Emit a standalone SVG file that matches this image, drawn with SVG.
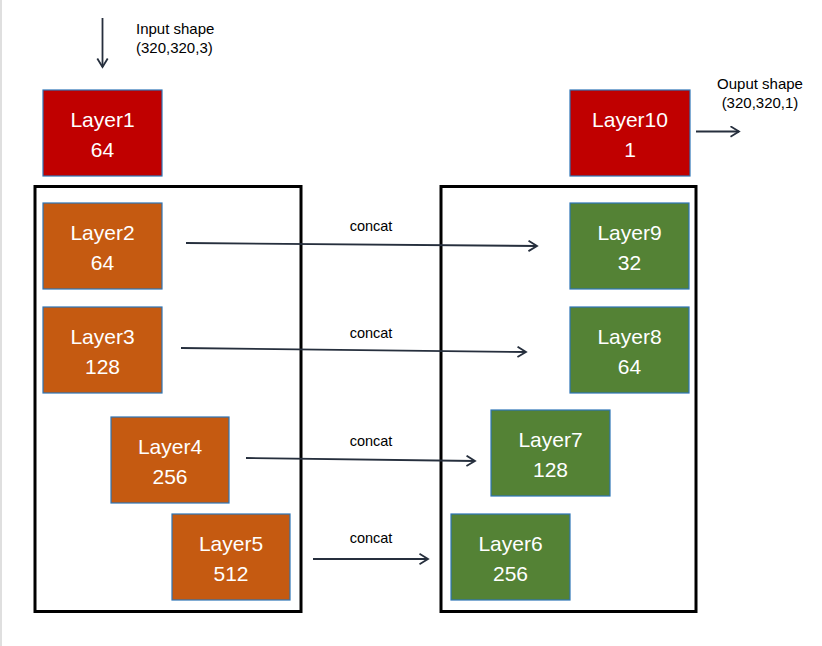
<svg xmlns="http://www.w3.org/2000/svg" width="822" height="646" viewBox="0 0 822 646">
<style>
.node rect{stroke:#2E75B6;stroke-width:1.2}
.red{fill:#C00000}.orange{fill:#C55A11}.green{fill:#548235}
.nt{font-family:"Liberation Sans",Arial,sans-serif;font-size:21px;fill:#FFFFFF;text-anchor:middle}
.lbl{font-family:"Liberation Sans",Arial,sans-serif;font-size:15px;fill:#000000}
.cc{font-family:"Liberation Sans",Arial,sans-serif;font-size:14.5px;fill:#000000;text-anchor:middle}
.frame{fill:none;stroke:#000000;stroke-width:3}
.conn line{stroke:#262F3D;stroke-width:1.8;marker-end:url(#arr)}
</style>
<defs>
<marker id="arr" markerUnits="userSpaceOnUse" markerWidth="14" markerHeight="14" refX="9.5" refY="6" orient="auto">
<path d="M1,0.8 L9.5,6 L1,11.2" fill="none" stroke="#262F3D" stroke-width="1.8"/>
</marker>
</defs>
<rect width="822" height="646" fill="#FFFFFF"/>
<line x1="1" y1="0" x2="1" y2="646" stroke="#D4D4D4" stroke-width="1.5"/>
<g id="frames">
<rect class="frame" x="35" y="186.5" width="266" height="425"/>
<rect class="frame" x="441" y="186.5" width="255" height="425"/>
</g>
<g id="layer1" class="node"><rect class="red" x="43" y="90" width="119" height="86"/><text class="nt" x="102.5" y="127">Layer1</text><text class="nt" x="102.5" y="157">64</text></g>
<g id="layer10" class="node"><rect class="red" x="570" y="90" width="120" height="86"/><text class="nt" x="630" y="127">Layer10</text><text class="nt" x="630" y="157">1</text></g>
<g id="layer2" class="node"><rect class="orange" x="43" y="203" width="119" height="86"/><text class="nt" x="102.5" y="240">Layer2</text><text class="nt" x="102.5" y="270">64</text></g>
<g id="layer3" class="node"><rect class="orange" x="43" y="307" width="119" height="86"/><text class="nt" x="102.5" y="344">Layer3</text><text class="nt" x="102.5" y="374">128</text></g>
<g id="layer4" class="node"><rect class="orange" x="111" y="417" width="118" height="86"/><text class="nt" x="170" y="454">Layer4</text><text class="nt" x="170" y="484">256</text></g>
<g id="layer5" class="node"><rect class="orange" x="172" y="514" width="118" height="86"/><text class="nt" x="231" y="551">Layer5</text><text class="nt" x="231" y="581">512</text></g>
<g id="layer6" class="node"><rect class="green" x="451" y="514" width="119" height="86"/><text class="nt" x="510.5" y="551">Layer6</text><text class="nt" x="510.5" y="581">256</text></g>
<g id="layer7" class="node"><rect class="green" x="491" y="410" width="119" height="86"/><text class="nt" x="550.5" y="447">Layer7</text><text class="nt" x="550.5" y="477">128</text></g>
<g id="layer8" class="node"><rect class="green" x="570" y="307" width="119" height="86"/><text class="nt" x="629.5" y="344">Layer8</text><text class="nt" x="629.5" y="374">64</text></g>
<g id="layer9" class="node"><rect class="green" x="570" y="203" width="119" height="86"/><text class="nt" x="629.5" y="240">Layer9</text><text class="nt" x="629.5" y="270">32</text></g>
<g id="connectors" class="conn">
<line x1="102.5" y1="18" x2="102.5" y2="67"/>
<line x1="696" y1="131.5" x2="739" y2="131.5"/>
<line x1="186" y1="243" x2="537" y2="246"/>
<line x1="181" y1="348" x2="526" y2="352"/>
<line x1="246" y1="458" x2="475" y2="461"/>
<line x1="313" y1="559" x2="428" y2="559"/>
</g>
<g id="labels">
<text class="lbl" x="136" y="34">Input shape</text>
<text class="lbl" x="136" y="53">(320,320,3)</text>
<text class="lbl" x="760" y="89" text-anchor="middle">Ouput shape</text>
<text class="lbl" x="760" y="108" text-anchor="middle">(320,320,1)</text>
<text class="cc" x="371" y="231">concat</text>
<text class="cc" x="371" y="338">concat</text>
<text class="cc" x="371" y="446">concat</text>
<text class="cc" x="371" y="543">concat</text>
</g>
</svg>
